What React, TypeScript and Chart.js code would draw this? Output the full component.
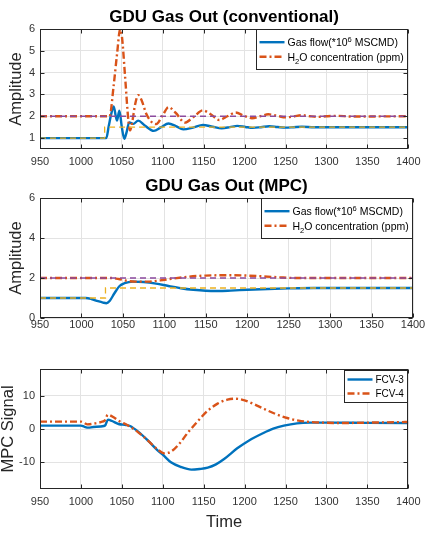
import { useEffect, useRef } from 'react';
import { Chart, registerables } from 'chart.js';

Chart.register(...registerables);

const FONT = '"Liberation Sans", Arial, Helvetica, sans-serif';
const BLUE = '#0072BD';
const ORANGE = '#D95319';
const YELLOW = '#EDB120';
const PURPLE = '#8C4A9E';
const AXIS = '#262626';
const GRID = '#e3e3e3';

// Shared time axis
const timeTicks = [950, 1000, 1050, 1100, 1150, 1200, 1250, 1300, 1350, 1400];

// ---- GDU Gas Out (conventional) ----
const convYTicks = [1, 2, 3, 4, 5, 6];
const convGasTime = [950, 1000, 1031, 1034, 1037, 1040, 1044, 1047, 1050, 1053, 1056, 1059, 1064, 1070, 1078, 1089, 1098, 1107, 1116, 1125, 1137, 1149, 1161, 1172, 1182, 1191, 1201, 1210, 1220, 1230, 1240, 1250, 1260, 1270, 1285, 1300, 1350, 1400];
const convGasValue = [1.0, 1.0, 1.0, 1.55, 2.1, 2.45, 1.8, 2.25, 1.5, 0.97, 1.3, 1.72, 1.65, 1.8, 1.58, 1.33, 1.5, 1.67, 1.55, 1.4, 1.48, 1.6, 1.52, 1.45, 1.5, 1.56, 1.51, 1.47, 1.5, 1.54, 1.51, 1.48, 1.5, 1.52, 1.5, 1.5, 1.5, 1.5];
const convH2oTime = [950, 1035, 1040, 1044, 1048, 1050, 1054, 1058, 1060, 1063, 1066, 1070, 1074, 1080, 1086, 1092, 1100, 1107, 1116, 1127, 1138, 1149, 1159, 1169, 1179, 1189, 1199, 1209, 1219, 1229, 1240, 1250, 1260, 1270, 1280, 1290, 1300, 1312, 1330, 1400];
const convH2oValue = [2.0, 2.0, 3.4, 4.8, 5.98, 5.7, 3.8, 1.8, 1.35, 1.8, 2.5, 2.97, 2.75, 2.1, 1.75, 1.64, 2.05, 2.42, 2.15, 1.71, 1.98, 2.27, 2.08, 1.83, 2.0, 2.17, 2.03, 1.91, 2.0, 2.09, 2.02, 1.95, 1.99, 2.05, 2.0, 1.97, 2.0, 2.02, 1.99, 2.0];
const convGasSetTime = [950, 1029, 1029, 1400];
const convGasSetValue = [1.0, 1.0, 1.5, 1.5];

// ---- GDU Gas Out (MPC) ----
const mpcYTicks = [0, 2, 4, 6];
const mpcGasTime = [950, 1005, 1012, 1020, 1026, 1030, 1034, 1040, 1046, 1052, 1062, 1075, 1090, 1105, 1120, 1135, 1150, 1165, 1180, 1200, 1225, 1250, 1280, 1310, 1400];
const mpcGasValue = [1.0, 1.0, 0.95, 0.84, 0.77, 0.74, 0.85, 1.25, 1.6, 1.74, 1.82, 1.8, 1.72, 1.6, 1.49, 1.41, 1.36, 1.35, 1.37, 1.41, 1.45, 1.48, 1.5, 1.5, 1.5];
const mpcH2oTime = [950, 1035, 1045, 1055, 1065, 1080, 1095, 1110, 1130, 1150, 1180, 1200, 1220, 1240, 1260, 1400];
const mpcH2oValue = [2.0, 2.0, 1.95, 1.86, 1.82, 1.82, 1.88, 1.97, 2.07, 2.12, 2.14, 2.12, 2.08, 2.03, 2.0, 2.0];
const mpcGasSetTime = [950, 1029, 1029, 1400];
const mpcGasSetValue = [1.0, 1.0, 1.5, 1.5];

// H2O set point (both panels)
const h2oSetTime = [950, 1400];
const h2oSetValue = [2.0, 2.0];

// ---- MPC signals ----
const signalYTicks = [-10, 0, 10];
const fcv3Time = [950, 1000, 1004, 1009, 1015, 1028, 1030, 1033, 1038, 1046, 1055, 1060, 1070, 1082, 1094, 1100, 1110, 1122, 1135, 1145, 1155, 1165, 1175, 1191, 1205, 1223, 1235, 1248, 1264, 1280, 1300, 1350, 1400];
const fcv3Value = [1.0, 1.0, 0.7, 0.4, 0.6, 0.9, 1.2, 2.8, 2.4, 1.5, 1.2, 0.9, -0.8, -3.5, -6.5, -7.7, -10.0, -11.4, -12.2, -12.0, -11.6, -10.6, -9.0, -5.8, -3.5, -1.2, 0.1, 1.0, 1.7, 1.9, 1.9, 1.85, 1.8];
const fcv4Time = [950, 1000, 1004, 1008, 1015, 1026, 1029, 1033, 1040, 1046, 1058, 1070, 1082, 1094, 1102, 1110, 1120, 1131, 1143, 1155, 1167, 1179, 1188, 1200, 1212, 1224, 1238, 1252, 1266, 1280, 1295, 1320, 1360, 1400];
const fcv4Value = [2.2, 2.2, 1.8, 1.4, 1.6, 2.2, 2.5, 4.3, 3.5, 2.5, 1.0, -1.0, -3.5, -6.2, -7.3, -6.8, -4.5, -1.0, 2.4, 5.5, 7.6, 8.8, 9.1, 8.6, 7.4, 6.0, 4.5, 3.3, 2.5, 2.1, 1.9, 1.8, 1.95, 2.1];

const GAS_LABEL = 'Gas flow(*10^6 MSCMD)';
const H2O_LABEL = 'H_2O concentration (ppm)';

const DASH_DOT = [7, 3, 2, 3];
const DASHED = [6, 4];

function pts(t: number[], v: number[]) {
  return t.map((x, i) => ({ x, y: v[i] }));
}

function series(label: string | undefined, t: number[], v: number[], color: string, dash: number[], width: number, order: number, smooth: boolean) {
  return {
    label,
    data: pts(t, v),
    borderColor: color,
    backgroundColor: color,
    borderWidth: width,
    borderDash: dash,
    pointRadius: 0,
    fill: false,
    order,
    clip: 0,
    tension: 0,
    cubicInterpolationMode: smooth ? 'monotone' : 'default',
  };
}

type Seg = { text: string; shift: number };

// Minimal TeX-like markup: ^x raises one char, _x lowers one char
function parseRich(s: string): Seg[] {
  const out: Seg[] = [];
  let buf = '';
  for (let i = 0; i < s.length; i++) {
    const c = s[i];
    if ((c === '^' || c === '_') && i + 1 < s.length) {
      if (buf) { out.push({ text: buf, shift: 0 }); buf = ''; }
      out.push({ text: s[i + 1], shift: c === '^' ? 1 : -1 });
      i++;
    } else {
      buf += c;
    }
  }
  if (buf) out.push({ text: buf, shift: 0 });
  return out;
}

function richWidth(ctx: CanvasRenderingContext2D, segs: Seg[], size: number) {
  let w = 0;
  for (const s of segs) {
    ctx.font = `${s.shift ? size * 0.72 : size}px ${FONT}`;
    w += ctx.measureText(s.text).width;
  }
  return w;
}

function drawRich(ctx: CanvasRenderingContext2D, segs: Seg[], x: number, y: number, size: number) {
  let cx = x;
  for (const s of segs) {
    const fs = s.shift ? size * 0.72 : size;
    ctx.font = `${fs}px ${FONT}`;
    const dy = s.shift === 1 ? -size * 0.42 : s.shift === -1 ? size * 0.3 : 0;
    ctx.fillText(s.text, cx, y + dy);
    cx += ctx.measureText(s.text).width;
  }
}

type PanelSpec = {
  datasets: any[];
  yMin: number;
  yMax: number;
  yTicks: number[];
  padTop: number;
  xAxisHeight: number;
  tickPad: number;
  title?: string;
  ylabel: string;
  ylabelX: number;
  xlabel?: string;
  xlabelY?: number;
  legendSize: number;
  legendRow: number;
  legendPadV: number;
  legendTop: number;
};

function decoPlugin(spec: PanelSpec) {
  return {
    id: 'deco',
    afterDatasetsDraw(chart: any) {
      const { ctx, chartArea: a } = chart;
      const xs = chart.scales.x;
      const ys = chart.scales.y;
      const L = Math.round(a.left) + 0.5;
      const R = Math.round(a.right) - 0.5;
      const T = Math.round(a.top) + 0.5;
      const B = Math.round(a.bottom) - 0.5;
      ctx.save();
      // axes box with inward ticks on all sides
      ctx.strokeStyle = AXIS;
      ctx.lineWidth = 1;
      ctx.setLineDash([]);
      ctx.strokeRect(L, T, R - L, B - T);
      ctx.beginPath();
      for (const t of xs.ticks) {
        const px = Math.round(xs.getPixelForValue(t.value)) + 0.5;
        ctx.moveTo(px, B); ctx.lineTo(px, B - 4);
        ctx.moveTo(px, T); ctx.lineTo(px, T + 4);
      }
      for (const t of ys.ticks) {
        const py = Math.round(ys.getPixelForValue(t.value)) + 0.5;
        ctx.moveTo(L, py); ctx.lineTo(L + 4, py);
        ctx.moveTo(R, py); ctx.lineTo(R - 4, py);
      }
      ctx.stroke();

      // legend, top-right inside the axes
      const entries = chart.data.datasets.filter((d: any) => d.label);
      const size = spec.legendSize;
      const segsList = entries.map((d: any) => parseRich(d.label));
      let maxW = 0;
      for (const s of segsList) maxW = Math.max(maxW, richWidth(ctx, s, size));
      const boxW = 3 + 25 + 3 + maxW + 5;
      const boxH = entries.length * spec.legendRow + spec.legendPadV * 2;
      const bx = Math.round(a.right - boxW) + 0.5;
      const by = Math.round(a.top + spec.legendTop) + 0.5;
      ctx.fillStyle = '#ffffff';
      ctx.fillRect(bx, by, R - bx, boxH);
      ctx.strokeStyle = AXIS;
      ctx.lineWidth = 1;
      ctx.strokeRect(bx, by, R - bx, boxH);
      entries.forEach((d: any, i: number) => {
        const cy = by + spec.legendPadV + spec.legendRow * (i + 0.5);
        ctx.beginPath();
        ctx.strokeStyle = d.borderColor;
        ctx.lineWidth = d.borderWidth;
        ctx.setLineDash(d.borderDash || []);
        ctx.moveTo(bx + 3, cy);
        ctx.lineTo(bx + 28, cy);
        ctx.stroke();
        ctx.setLineDash([]);
        ctx.fillStyle = '#000000';
        ctx.textAlign = 'left';
        ctx.textBaseline = 'alphabetic';
        drawRich(ctx, segsList[i], bx + 31, cy + size * 0.36, size);
      });

      // titles and axis labels
      ctx.fillStyle = '#000000';
      if (spec.title) {
        ctx.font = `bold 17px ${FONT}`;
        ctx.textAlign = 'center';
        ctx.textBaseline = 'alphabetic';
        ctx.fillText(spec.title, (a.left + a.right) / 2, a.top - 7);
      }
      ctx.fillStyle = '#262626';
      ctx.font = `16.5px ${FONT}`;
      ctx.save();
      ctx.translate(spec.ylabelX, (a.top + a.bottom) / 2);
      ctx.rotate(-Math.PI / 2);
      ctx.textAlign = 'center';
      ctx.textBaseline = 'alphabetic';
      ctx.fillText(spec.ylabel, 0, 0);
      ctx.restore();
      if (spec.xlabel && spec.xlabelY) {
        ctx.textAlign = 'center';
        ctx.textBaseline = 'alphabetic';
        ctx.fillText(spec.xlabel, (a.left + a.right) / 2, spec.xlabelY);
      }
      ctx.restore();
    },
  };
}

function makeConfig(spec: PanelSpec): any {
  return {
    type: 'line',
    data: { datasets: spec.datasets },
    plugins: [decoPlugin(spec)],
    options: {
      responsive: false,
      animation: false,
      events: [],
      layout: { padding: { top: spec.padTop, right: 14, left: 0, bottom: 0 } },
      plugins: { legend: { display: false }, title: { display: false }, tooltip: { enabled: false } },
      scales: {
        x: {
          type: 'linear',
          min: 950,
          max: 1400,
          border: { display: false },
          grid: { color: GRID, lineWidth: 1, drawTicks: false },
          afterBuildTicks: (s: any) => { s.ticks = timeTicks.map((value) => ({ value })); },
          afterFit: (s: any) => { s.height = spec.xAxisHeight; },
          ticks: {
            padding: spec.tickPad,
            color: '#333333',
            font: { family: FONT, size: 11 },
            maxRotation: 0,
            autoSkip: false,
            callback: (v: number) => String(v),
          },
        },
        y: {
          type: 'linear',
          min: spec.yMin,
          max: spec.yMax,
          border: { display: false },
          grid: { color: GRID, lineWidth: 1, drawTicks: false },
          afterBuildTicks: (s: any) => { s.ticks = spec.yTicks.map((value) => ({ value })); },
          afterFit: (s: any) => { s.width = 40; },
          ticks: {
            padding: 5,
            color: '#333333',
            font: { family: FONT, size: 11 },
            autoSkip: false,
            callback: (v: number) => String(v),
          },
        },
      },
    },
  };
}

const panels: { top: number; height: number; spec: PanelSpec }[] = [
  {
    top: 0,
    height: 170,
    spec: {
      datasets: [
        series(GAS_LABEL, convGasTime, convGasValue, BLUE, [], 2.4, 4, true),
        series(H2O_LABEL, convH2oTime, convH2oValue, ORANGE, DASH_DOT, 2.4, 3, true),
        series(undefined, convGasSetTime, convGasSetValue, YELLOW, DASHED, 1.3, 2, false),
        series(undefined, h2oSetTime, h2oSetValue, PURPLE, DASHED, 1.3, 1, false),
      ],
      yMin: 0.5,
      yMax: 6,
      yTicks: convYTicks,
      padTop: 29,
      xAxisHeight: 21,
      tickPad: 6.5,
      title: 'GDU Gas Out (conventional)',
      ylabel: 'Amplitude',
      ylabelX: 21,
      legendSize: 10.5,
      legendRow: 14.6,
      legendPadV: 5.4,
      legendTop: 0,
    },
  },
  {
    top: 170,
    height: 165,
    spec: {
      datasets: [
        series(GAS_LABEL, mpcGasTime, mpcGasValue, BLUE, [], 2.4, 4, true),
        series(H2O_LABEL, mpcH2oTime, mpcH2oValue, ORANGE, DASH_DOT, 2.4, 3, true),
        series(undefined, mpcGasSetTime, mpcGasSetValue, YELLOW, DASHED, 1.3, 2, false),
        series(undefined, h2oSetTime, h2oSetValue, PURPLE, DASHED, 1.3, 1, false),
      ],
      yMin: 0,
      yMax: 6,
      yTicks: mpcYTicks,
      padTop: 28,
      xAxisHeight: 17,
      tickPad: 0.5,
      title: 'GDU Gas Out (MPC)',
      ylabel: 'Amplitude',
      ylabelX: 21,
      legendSize: 10.5,
      legendRow: 14.6,
      legendPadV: 5.4,
      legendTop: 0,
    },
  },
  {
    top: 335,
    height: 198,
    spec: {
      datasets: [
        series('FCV-3', fcv3Time, fcv3Value, BLUE, [], 2.4, 2, true),
        series('FCV-4', fcv4Time, fcv4Value, ORANGE, DASH_DOT, 2.4, 1, true),
      ],
      yMin: -18,
      yMax: 18,
      yTicks: signalYTicks,
      padTop: 34,
      xAxisHeight: 44,
      tickPad: 6.5,
      ylabel: 'MPC Signal',
      ylabelX: 13,
      xlabel: 'Time',
      xlabelY: 192,
      legendSize: 10,
      legendRow: 14,
      legendPadV: 2,
      legendTop: 1,
    },
  },
];

function Panel({ spec, top, height }: { spec: PanelSpec; top: number; height: number }) {
  const ref = useRef<HTMLCanvasElement>(null);
  useEffect(() => {
    const chart = new Chart(ref.current as HTMLCanvasElement, makeConfig(spec));
    return () => chart.destroy();
  }, [spec]);
  return (
    <canvas
      ref={ref}
      width={427}
      height={height}
      style={{ position: 'absolute', left: 0, top, width: 427, height, display: 'block' }}
    />
  );
}

export default function App() {
  return (
    <div style={{ position: 'absolute', left: 0, top: 0, width: 427, height: 533, background: '#ffffff', overflow: 'hidden' }}>
      {panels.map((p, i) => (
        <Panel key={i} spec={p.spec} top={p.top} height={p.height} />
      ))}
    </div>
  );
}
